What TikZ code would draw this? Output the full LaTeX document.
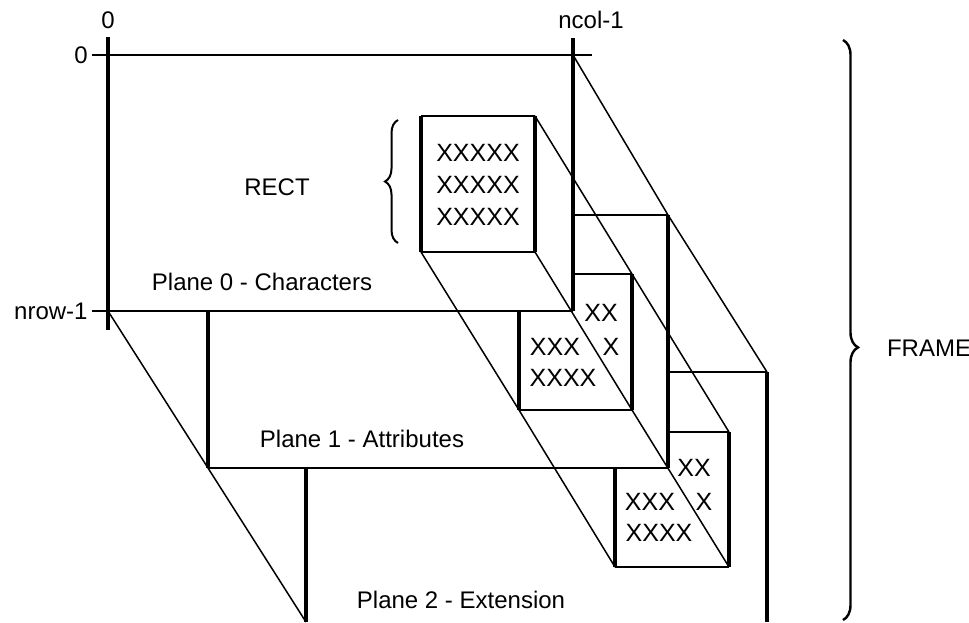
\documentclass[tikz,border=0pt]{standalone}
\usepackage{fontspec}
\setmainfont{Liberation Sans}
\usetikzlibrary{decorations.pathreplacing}
\begin{document}
\begin{tikzpicture}[x=0.5pt,y=-0.5pt,
  edge/.style={line width=0.75pt},
  rim/.style={line width=1.1pt},
  post/.style={line width=1.7pt},
  lbl/.style={font=\fontsize{12}{14}\selectfont,inner sep=0pt},
  xs/.style={font=\fontsize{12.5}{16}\selectfont,inner sep=0pt}]
\useasboundingbox (0,0) rectangle (969,622);
% plane corners
\coordinate (a0) at (108,55);  \coordinate (b0) at (573,55);
\coordinate (c0) at (573,311); \coordinate (d0) at (108,311);
\coordinate (b1) at (668,215); \coordinate (c1) at (668,468);
\coordinate (d1) at (208,468);
\coordinate (b2) at (767,372); \coordinate (c2) at (767,622);
\coordinate (d2) at (306,622);
% rect corners
\coordinate (r0a) at (421,116); \coordinate (r0b) at (535,116);
\coordinate (r0c) at (535,252); \coordinate (r0d) at (421,252);
\coordinate (r1b) at (632,274); \coordinate (r1c) at (632,410);
\coordinate (r1d) at (519,410);
\coordinate (r2b) at (729,432); \coordinate (r2c) at (729,567);
\coordinate (r2d) at (615,567);
% plane 0
\draw[edge] (92,55) -- (592,55);
\draw[edge] (92,311) -- (c0);
\draw[post] (108,37) -- (108,330);
\draw[post] (573,38) -- (c0);
% plane 1
\draw[edge] (573,215) -- (b1);
\draw[post] (b1) -- (c1);
\draw[edge] (d1) -- (c1);
\draw[post] (208,311) -- (d1);
% plane 2
\draw[edge] (668,372) -- (b2);
\draw[post] (b2) -- (c2);
\draw[post] (306,468) -- (d2);
% depth lines
\draw[edge] (d0) -- (d1) -- (d2);
\draw[edge] (b0) -- (b1) -- (b2);
% rect
\draw[rim] (r0a) -- (r0b);
\draw[rim] (r0d) -- (r0c);
\draw[post] (r0a) -- (r0d);
\draw[post] (r0b) -- (r0c);
\draw[rim] (573,274) -- (r1b);
\draw[post] (r1b) -- (r1c);
\draw[rim] (r1d) -- (r1c);
\draw[post] (519,311) -- (r1d);
\draw[rim] (668,432) -- (r2b);
\draw[post] (r2b) -- (r2c);
\draw[rim] (r2d) -- (r2c);
\draw[post] (615,468) -- (r2d);
\draw[edge] (r0b) -- (r1b) -- (r2b);
\draw[edge] (r0c) -- (r1c) -- (r2c);
\draw[edge] (r0d) -- (r1d) -- (r2d);
% braces
\draw[line width=1pt,decorate,decoration={brace,amplitude=6.5pt}] (398,243) -- (398,120);
\draw[line width=1.2pt,decorate,decoration={brace,amplitude=7.5pt,aspect=0.53}] (843,40) -- (843,620);
% labels
\node[lbl] (topzero) at (108,20) {0};
\node[lbl] (ncol) at (591,20) {ncol-1};
\node[lbl,anchor=east] (leftzero) at (88,55) {0};
\node[lbl,anchor=east] (nrow) at (88,311) {nrow-1};
\node[lbl] (rect) at (277,187) {RECT};
\node[lbl] (frame) at (929,348) {FRAME};
\node[lbl] (plane0) at (262,282) {Plane 0 - Characters};
\node[lbl] (plane1) at (362,439) {Plane 1 - Attributes};
\node[lbl] (plane2) at (461,600) {Plane 2 - Extension};
\node[xs,align=center] (chars) at (478,185) {XXXXX\\XXXXX\\XXXXX};
\node[xs] (attra) at (601,313) {XX};
\node[xs] (attrb) at (555,347) {XXX};
\node[xs] (attrc) at (611,347) {X};
\node[xs] (attrd) at (563,378) {XXXX};
\node[xs] (exta) at (694,468) {XX};
\node[xs] (extb) at (650,502) {XXX};
\node[xs] (extc) at (704,502) {X};
\node[xs] (extd) at (659,533) {XXXX};
\end{tikzpicture}
\end{document}
